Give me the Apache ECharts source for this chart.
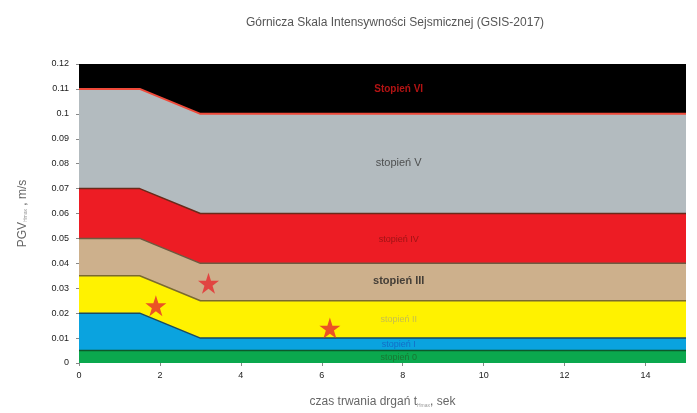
<!DOCTYPE html>
<html><head><meta charset="utf-8">
<script src="https://cdn.jsdelivr.net/npm/echarts@6/dist/echarts.min.js"></script>
<style>html,body{margin:0;padding:0;background:#fff}#c{width:697px;height:413px}</style>
</head><body><div id="c"></div>
<script>
// x breakpoints (duration, s)
var xPoints = [0, 1.5, 3, 15];
// upper boundaries of each band (PGV, m/s)
var top0   = [0.005, 0.005, 0.005, 0.005];
var topI   = [0.02, 0.02, 0.01, 0.01];
var topII  = [0.035, 0.035, 0.025, 0.025];
var topIII = [0.05, 0.05, 0.04, 0.04];
var topIV  = [0.07, 0.07, 0.06, 0.06];
var topV   = [0.11, 0.11, 0.10, 0.10];
var topVI  = [0.12, 0.12, 0.12, 0.12];
var bandNames = ['stopień 0','stopień I','stopień II','stopień III','stopień IV','stopień V','Stopień VI'];
// measured events
var starX = [1.9, 3.2, 6.2];
var starY = [0.023, 0.032, 0.014];
// band label anchors
var labelX = [7.9, 7.9, 7.9, 7.9, 7.9, 7.9, 7.9];
var labelY = [0.0024, 0.0076, 0.0176, 0.0328, 0.0496, 0.0804, 0.110];

var tops = [top0, topI, topII, topIII, topIV, topV, topVI];
var fills = ['#0ba84e','#0aa3df','#fff200','#cdb08c','#ed1c24','#b3bbbf','#000000'];
var edges = ['#0d5a2a','#1a4a60','#7a6a30','#6e5a40','#6a2a1a','#ef4a3a','#000000'];
var edgeW = [1.5,1.5,1.5,1.5,1.5,2,0];
var labelColors = ['#1d6a2a','#1560c0','#b8b060','#222222','#8a1010','#333333','#e01818'];

var series = [];
tops.forEach(function(t, i){
  series.push({
    type:'line', name: bandNames[i], symbol:'none', silent:true,
    data: xPoints.map(function(x,k){ return [x, t[k]]; }),
    lineStyle:{color:edges[i], width:edgeW[i]},
    areaStyle:{color:fills[i], opacity:1, origin:'start'},
    z: 2 + (tops.length - i)
  });
});
series.push({
  type:'scatter', silent:true, symbolSize:0, z:20,
  data: labelX.map(function(x,i){ return {value:[x,labelY[i]], label:{show:true, formatter:bandNames[i], position:'inside', color:labelColors[i], fontWeight: (i===3||i===6)?'bold':'normal', fontSize: i===5||i===3?11:(i===6?10:9)}}; }),
  label:{show:true, fontFamily:'Liberation Sans, Arial, sans-serif'}
});
series.push({
  type:'scatter', silent:true, z:21,
  symbol:'path://M50,0 L61.8,35.3 L99,35.3 L68.9,57.1 L80.4,92.4 L50,70.6 L19.6,92.4 L31.1,57.1 L1,35.3 L38.2,35.3 Z',
  symbolSize:21,
  itemStyle:{color:'#e62a2e'},
  data: starX.map(function(x,i){ return [x, starY[i]]; })
});

var chart = echarts.init(document.getElementById('c'));
chart.setOption({
  animation:false,
  textStyle:{fontFamily:'Liberation Sans, Arial, sans-serif'},
  title:{text:'Górnicza Skala Intensywności Sejsmicznej (GSIS-2017)', left:390, top:12, textAlign:'center',
    textStyle:{fontSize:12, fontWeight:'normal', color:'#555'}},
  grid:{left:79, right:11, top:64, bottom:49},
  xAxis:{type:'value', min:0, max:15, interval:2,
    name:'czas trwania drgań t{sub|Hmax}, sek', nameLocation:'middle', nameGap:33,
    nameTextStyle:{fontSize:12, color:'#666', rich:{sub:{fontSize:5, color:'#999', verticalAlign:'bottom', padding:[6,0,0,0]}}},
    axisLine:{show:false}, axisTick:{show:true, length:3, lineStyle:{color:'#888'}},
    axisLabel:{fontSize:9, color:'#222', margin:8, showMaxLabel:false},
    splitLine:{show:false}},
  yAxis:{type:'value', min:0, max:0.12, interval:0.01,
    name:'PGV{sub|Hmax} , m/s', nameLocation:'middle', nameGap:50, nameRotate:90,
    nameTextStyle:{fontSize:12, color:'#666', rich:{sub:{fontSize:5, color:'#999', padding:[6,0,0,0]}}},
    axisLine:{show:false}, axisTick:{show:true, length:3, lineStyle:{color:'#888'}},
    axisLabel:{fontSize:9, color:'#222', margin:10},
    splitLine:{show:false}},
  series: series
});
</script></body></html>
